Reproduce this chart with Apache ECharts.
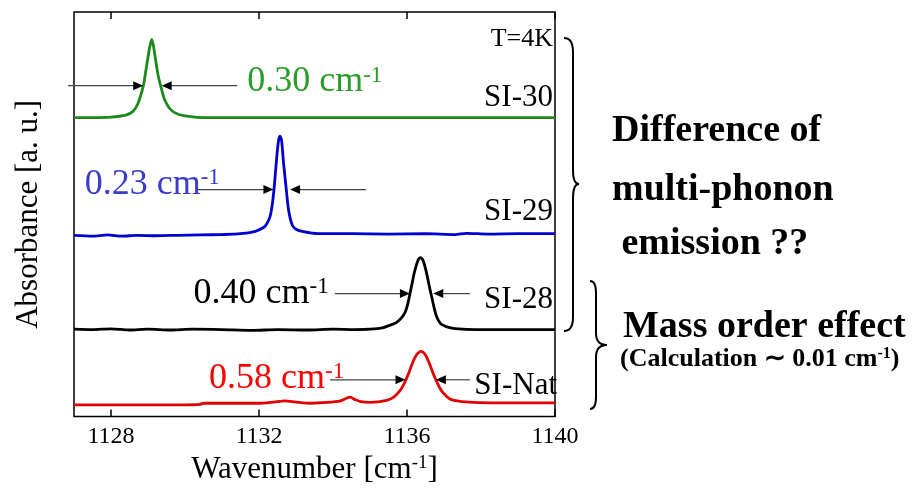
<!DOCTYPE html>
<html><head><meta charset="utf-8">
<script src="https://cdn.jsdelivr.net/npm/echarts@6/dist/echarts.min.js"></script>
<style>html,body{margin:0;padding:0;background:#fff}#c{width:913px;height:490px}</style>
</head><body><div id="c"></div>
<script>
// ---- data (wavenumber [cm-1], absorbance offset [a.u.]) ----
const xTicks = [1128, 1132, 1136, 1140];
const si30 = [[1127.0,73.9],[1127.5,73.9],[1128.0,74.0],[1128.4,74.5],[1128.6,75.5],[1128.72,77.2],[1128.8,79.3],[1128.88,82.0],[1128.95,86.0],[1129.0,88.8],[1129.05,91.5],[1129.1,93.2],[1129.15,91.5],[1129.2,88.5],[1129.27,84.5],[1129.35,81.5],[1129.45,78.3],[1129.6,76.0],[1129.8,74.8],[1130.1,74.2],[1130.5,73.9],[1131.5,73.9],[1133,73.9],[1135,73.9],[1137,73.9],[1140,73.9]];
const si29 = [[1127.0,44.8],[1127.5,44.6],[1127.9,44.9],[1128.3,44.6],[1128.7,44.8],[1129.2,44.7],[1129.8,44.8],[1130.4,44.9],[1131.0,45.0],[1131.5,45.2],[1131.9,45.8],[1132.1,46.6],[1132.2,47.5],[1132.3,49.5],[1132.36,52.5],[1132.42,57.6],[1132.48,64.2],[1132.53,68.3],[1132.57,69.3],[1132.61,68.3],[1132.66,63.0],[1132.73,56.8],[1132.8,51.0],[1132.9,47.3],[1133.0,46.3],[1133.2,45.7],[1133.6,45.2],[1134.5,45.2],[1135.5,45.1],[1136.5,45.2],[1137.3,45.0],[1137.6,45.3],[1138.2,45.1],[1139,45.2],[1140,45.2]];
const si28 = [[1127.0,21.6],[1127.5,21.5],[1128.0,21.7],[1128.5,21.4],[1129.0,21.6],[1129.6,21.4],[1130.2,21.6],[1131.0,21.5],[1131.8,21.3],[1132.5,21.5],[1133.3,21.4],[1134.0,21.6],[1134.6,21.5],[1135.0,21.6],[1135.36,22.0],[1135.6,22.8],[1135.72,23.3],[1135.85,24.4],[1135.95,25.8],[1136.02,27.8],[1136.08,30.4],[1136.14,33.0],[1136.19,35.3],[1136.24,37.0],[1136.28,38.2],[1136.32,39.0],[1136.36,39.3],[1136.41,39.0],[1136.45,38.2],[1136.51,36.2],[1136.57,33.7],[1136.62,31.5],[1136.67,29.5],[1136.73,27.0],[1136.79,25.0],[1136.86,23.6],[1136.93,22.8],[1137.15,22.0],[1137.5,21.6],[1138,21.5],[1139,21.5],[1140,21.5]];
const siNat = [[1127.0,2.9],[1128.0,2.9],[1129.0,2.9],[1130.0,2.9],[1130.4,3.0],[1130.5,3.3],[1131.2,3.3],[1132.0,3.3],[1132.4,3.6],[1132.7,3.9],[1133.0,3.6],[1133.4,3.3],[1133.85,3.5],[1134.2,3.9],[1134.46,4.8],[1134.6,4.2],[1134.75,3.7],[1135.0,3.5],[1135.45,4.0],[1135.65,4.9],[1135.81,6.4],[1135.93,8.3],[1136.04,10.6],[1136.13,12.8],[1136.22,14.7],[1136.3,15.7],[1136.38,16.1],[1136.46,15.7],[1136.53,14.7],[1136.62,12.8],[1136.71,10.6],[1136.82,8.3],[1136.93,6.4],[1137.15,4.4],[1137.4,3.8],[1137.8,3.5],[1138.5,3.4],[1139.3,3.4],[1140,3.4]];
const sampleNames = ['SI-30','SI-29','SI-28','SI-Nat'];
const fwhmValues = ['0.30','0.23','0.40','0.58'];
const tempLabel = 'T=4K';

const FONT = "'Liberation Serif','Times New Roman',serif";
const lineColors = ['#1b8a1b','#0000d0','#000000','#e00000'];
const textColors = ['#2a9d2a','#3b3bcc','#000000','#ff0000'];

// annotation geometry in data coordinates
const arrowY = [81.8, 56.1, 30.4, 9.1];
const arrowLeft = [[1126.84,1128.87],[1130.35,1132.39],[1134.05,1136.08],[1133.92,1135.96]];
const arrowRight = [[1131.41,1129.37],[1134.89,1132.84],[1137.70,1136.71],[1137.70,1136.78]];
const fwhmPos = [[1131.68,82.7],[1127.29,57.4],[1130.23,30.4],[1130.65,9.4]];

const chart = echarts.init(document.getElementById('c'), null, {renderer:'canvas'});
const allData = [si30, si29, si28, siNat];
const tickFmt = v => String(Math.round(v));
const option = {
  animation:false,
  backgroundColor:'#fff',
  grid:{left:74, right:358, top:12, bottom:64, show:true, borderColor:'#000', borderWidth:1.5, backgroundColor:'transparent'},
  xAxis:[{
    type:'value', min:1127, max:1140, position:'bottom',
    axisLine:{show:false}, splitLine:{show:false},
    axisTick:{show:true, inside:true, length:7, customValues:xTicks, lineStyle:{color:'#000', width:1.5}},
    axisLabel:{show:true, customValues:xTicks, formatter:tickFmt, margin:8, fontFamily:FONT, fontSize:24, color:'#000'},
    name:'{a|Wavenumber [cm}{s|-1}{a|]}', nameLocation:'middle', nameGap:33,
    nameTextStyle:{rich:{a:{fontFamily:FONT,fontSize:31,color:'#000',lineHeight:32}, s:{fontFamily:FONT,fontSize:19,color:'#000',verticalAlign:'top',lineHeight:18}}}
  },{
    type:'value', min:1127, max:1140, position:'top',
    axisLine:{show:false}, splitLine:{show:false},
    axisTick:{show:true, inside:true, length:7, customValues:xTicks, lineStyle:{color:'#000', width:1.5}},
    axisLabel:{show:false}
  }],
  yAxis:{type:'value', min:0, max:100, axisLine:{show:false}, axisTick:{show:false}, axisLabel:{show:false}, splitLine:{show:false},
    name:'Absorbance [a. u.]', nameLocation:'middle', nameGap:30,
    nameTextStyle:{fontFamily:FONT, fontSize:31, color:'#000'}},
  series: allData.map((d,i)=>({
    name:sampleNames[i], type:'line', data:d, showSymbol:false, smooth:0.25,
    lineStyle:{color:lineColors[i], width:2.8}, itemStyle:{color:lineColors[i]}, z:3
  }))
};
chart.setOption(option);

function arrow(x0,y0,x1,y1){
  const p0 = chart.convertToPixel({gridIndex:0},[x0,y0]);
  const p1 = chart.convertToPixel({gridIndex:0},[x1,y1]);
  const dir = Math.sign(p1[0]-p0[0]);
  const L = 10, W = 4.5;
  return [
    {type:'line', shape:{x1:p0[0],y1:p0[1],x2:p1[0]-dir*L*0.8,y2:p1[1]}, style:{stroke:'#444',lineWidth:1.2}, z:10},
    {type:'polygon', shape:{points:[[p1[0],p1[1]],[p1[0]-dir*L,p1[1]-W],[p1[0]-dir*L,p1[1]+W]]}, style:{fill:'#000'}, z:10}
  ];
}
const g = [];
for(let i=0;i<4;i++){
  g.push(...arrow(arrowLeft[i][0],arrowY[i],arrowLeft[i][1],arrowY[i]));
  g.push(...arrow(arrowRight[i][0],arrowY[i],arrowRight[i][1],arrowY[i]));
  const p = chart.convertToPixel({gridIndex:0}, fwhmPos[i]);
  g.push({type:'text', x:p[0], y:p[1], z:11, style:{
    text:'{a|'+fwhmValues[i]+' cm}{s|-1}', verticalAlign:'middle', align:'left',
    rich:{a:{fontFamily:FONT,fontSize:36,fill:textColors[i],lineHeight:36}, s:{fontFamily:FONT,fontSize:23,fill:textColors[i],verticalAlign:'top',lineHeight:20}}
  }});
}
// sample labels + temperature (right aligned inside the frame)
const rightLabels = [[tempLabel,39,26],[sampleNames[0],98,31],[sampleNames[1],212,31],[sampleNames[2],300,31],[sampleNames[3],386,31]];
rightLabels.forEach(([t,y,fs],k)=>{
  g.push({type:'text', x: k===4?557:553, y:y, z:11, style:{text:t, align:'right', verticalAlign:'middle', font:fs+'px '+FONT, fill:'#000'}});
});
// braces
function brace(x0, xb, xc, yTop, yMid, yBot, r){
  const st = {stroke:'#000', lineWidth:2, fill:null};
  return [
    {type:'bezierCurve', shape:{x1:x0,y1:yTop,cpx1:xb,cpy1:yTop,x2:xb,y2:yTop+r}, style:st},
    {type:'line', shape:{x1:xb,y1:yTop+r,x2:xb,y2:yMid-r}, style:st},
    {type:'bezierCurve', shape:{x1:xb,y1:yMid-r,cpx1:xb,cpy1:yMid,x2:xc,y2:yMid}, style:st},
    {type:'bezierCurve', shape:{x1:xc,y1:yMid,cpx1:xb,cpy1:yMid,x2:xb,y2:yMid+r}, style:st},
    {type:'line', shape:{x1:xb,y1:yMid+r,x2:xb,y2:yBot-r}, style:st},
    {type:'bezierCurve', shape:{x1:xb,y1:yBot-r,cpx1:xb,cpy1:yBot,x2:x0,y2:yBot}, style:st}
  ];
}
g.push(...brace(564, 573, 579, 38, 184, 331, 14));
g.push(...brace(590, 596, 607, 281, 345, 409, 12));
// side texts
const sideBold = [['Difference of',612,131],['multi-phonon',612,190],[' emission ??',612,244],['Mass order effect',623,327]];
sideBold.forEach(([t,x,y])=>g.push({type:'text', x:x, y:y, style:{text:t, align:'left', verticalAlign:'middle', font:'bold 38px '+FONT, fill:'#000'}}));
g.push({type:'text', x:620, y:359, style:{text:'{a|(Calculation ∼ 0.01 cm}{s|-1}{a|)}', align:'left', verticalAlign:'middle',
  rich:{a:{fontFamily:FONT,fontWeight:'bold',fontSize:26,fill:'#000',lineHeight:26}, s:{fontFamily:FONT,fontWeight:'bold',fontSize:16,fill:'#000',verticalAlign:'top',lineHeight:14}}}});
chart.setOption({graphic:{elements:g}});
</script></body></html>
